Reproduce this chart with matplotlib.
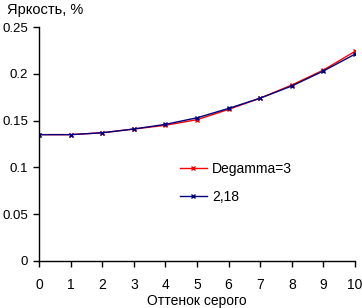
import numpy as np
import matplotlib
matplotlib.use('Agg')
import matplotlib.pyplot as plt

plt.rcParams['font.family'] = ['Liberation Sans', 'DejaVu Sans']

x = np.arange(0, 11)
degamma3 = [0.135, 0.135, 0.137, 0.141, 0.145, 0.151, 0.162, 0.174, 0.188, 0.204, 0.224]
gamma218 = [0.135, 0.135, 0.137, 0.141, 0.146, 0.153, 0.163, 0.174, 0.187, 0.203, 0.221]
yticks = [0, 0.05, 0.1, 0.15, 0.2, 0.25]
ytick_labels = ['0', '0.05', '0.1', '0.15', '0.2', '0.25']

fig = plt.figure(figsize=(3.62, 3.08), dpi=100)
ax = fig.add_axes([0.1077, 0.1526, 0.8730, 0.7597])

ax.plot(x, degamma3, color='#ff0000', marker='x', markersize=3.5, mew=1, lw=1, label='Degamma=3')
ax.plot(x, gamma218, color='#000080', marker='x', markersize=3.5, mew=1, lw=1, label='2,18')

ax.set_xlim(0, 10)
ax.set_ylim(0, 0.25)
ax.set_xticks(x)
ax.set_yticks(yticks)
ax.set_yticklabels(ytick_labels)
ax.tick_params(direction='out', length=4, width=1, labelsize=10, colors='black')
ax.tick_params(axis='x', pad=8)
ax.tick_params(axis='y', pad=4, labelsize=9.5)
for s in ['top', 'right']:
    ax.spines[s].set_visible(False)
for s in ['left', 'bottom']:
    ax.spines[s].set_linewidth(1)

ax.set_xlabel('Оттенок серого', fontsize=10, labelpad=2)
fig.text(0.018, 0.967, 'Яркость, %', fontsize=10.5, va='center', ha='left')

ax.legend(loc='upper left', bbox_to_anchor=(0.497, 0.474), bbox_transform=fig.transFigure,
          frameon=False, fontsize=10, borderpad=0, borderaxespad=0,
          handlelength=1.95, handletextpad=0.36, labelspacing=1.0)

fig.savefig('out.png', dpi=100)
